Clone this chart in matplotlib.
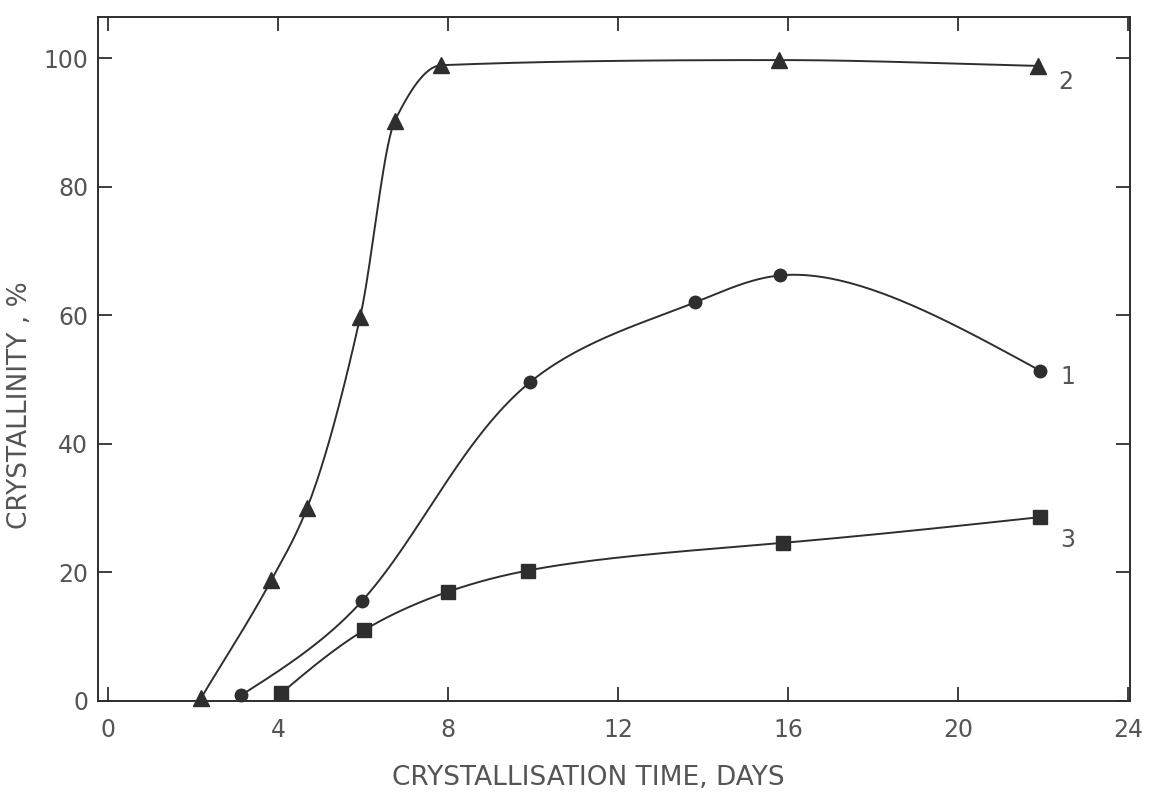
import numpy as np
import matplotlib
matplotlib.use("Agg")
import matplotlib.pyplot as plt

# ---- data ----
days_2 = [2.19, 3.84, 4.68, 5.93, 6.75, 7.84, 15.79, 21.88]
cryst_2 = [0.5, 18.8, 30.0, 59.7, 90.3, 98.9, 99.7, 98.8]

days_1 = [3.13, 5.98, 9.93, 13.81, 15.81, 21.93]
cryst_1 = [0.9, 15.6, 49.6, 62.0, 66.2, 51.4]

days_3 = [4.07, 6.02, 8.00, 9.88, 15.88, 21.93]
cryst_3 = [1.2, 11.0, 17.0, 20.3, 24.6, 28.6]

x_ticks = [0, 4, 8, 12, 16, 20, 24]
y_ticks = [0, 20, 40, 60, 80, 100]
curve_labels = ["2", "1", "3"]

INK = "#2e2e2e"
TXT = "#555555"
FONT = "DejaVu Sans"

# display aspect (px per unit) used only to make the smooth curves isotropic
SX, SY = 42.5, 6.425


def natural_spline(t, v, ts):
    t = np.asarray(t, float)
    v = np.asarray(v, float)
    n = len(t)
    h = np.diff(t)
    d = np.diff(v) / h
    A = np.zeros((n, n))
    b = np.zeros(n)
    A[0, 0] = A[-1, -1] = 1.0
    for i in range(1, n - 1):
        A[i, i - 1] = h[i - 1]
        A[i, i] = 2 * (h[i - 1] + h[i])
        A[i, i + 1] = h[i]
        b[i] = 6 * (d[i] - d[i - 1])
    M = np.linalg.solve(A, b)
    idx = np.clip(np.searchsorted(t, ts) - 1, 0, n - 2)
    hi = h[idx]
    a = (t[idx + 1] - ts) / hi
    c = (ts - t[idx]) / hi
    return (a * v[idx] + c * v[idx + 1]
            + ((a**3 - a) * M[idx] + (c**3 - c) * M[idx + 1]) * hi**2 / 6)


def pchip(x, y, xs):
    x = np.asarray(x, float)
    y = np.asarray(y, float)
    h = np.diff(x)
    d = np.diff(y) / h
    n = len(x)
    m = np.zeros(n)
    for k in range(1, n - 1):
        if d[k - 1] * d[k] > 0:
            w1 = 2 * h[k] + h[k - 1]
            w2 = h[k] + 2 * h[k - 1]
            m[k] = (w1 + w2) / (w1 / d[k - 1] + w2 / d[k])
    m[0] = d[0]
    m[-1] = d[-1]
    idx = np.clip(np.searchsorted(x, xs) - 1, 0, n - 2)
    t = (xs - x[idx]) / h[idx]
    h00 = 2 * t**3 - 3 * t**2 + 1
    h10 = t**3 - 2 * t**2 + t
    h01 = -2 * t**3 + 3 * t**2
    h11 = t**3 - t**2
    return (h00 * y[idx] + h10 * h[idx] * m[idx]
            + h01 * y[idx + 1] + h11 * h[idx] * m[idx + 1])


def smooth_curve(xd, yd, method):
    if method == "pchip":
        xs = np.linspace(xd[0], xd[-1], 800)
        return xs, pchip(xd, yd, xs)
    px = np.asarray(xd, float) * SX
    py = np.asarray(yd, float) * SY
    seg = np.hypot(np.diff(px), np.diff(py)) ** 0.8
    t = np.concatenate([[0], np.cumsum(seg)])
    ts = np.linspace(0, t[-1], 800)
    return natural_spline(t, px, ts) / SX, natural_spline(t, py, ts) / SY


fig = plt.figure(figsize=(11.53, 7.94), dpi=100)
ax = fig.add_axes([98 / 1153, 1 - 701 / 794, (1130 - 98) / 1153, (701 - 17) / 794])
ax.set_xlim(-0.24, 24.05)
ax.set_ylim(0, 106.4)

series = [
    (days_2, cryst_2, "^", 12, (28, -16), "pchip"),
    (days_1, cryst_1, "o", 9, (28, -6), "spline"),
    (days_3, cryst_3, "s", 9.5, (28, -23), "spline"),
]
for (xd, yd, mk, ms, off, meth), lab in zip(series, curve_labels):
    cx, cy = smooth_curve(xd, yd, meth)
    ax.plot(cx, cy, color=INK, lw=1.4, zorder=2)
    ax.plot(xd, yd, linestyle="none", marker=mk, ms=ms, color=INK,
            mec=INK, zorder=3, clip_on=False)
    ax.annotate(lab, xy=(xd[-1], yd[-1]), xytext=off,
                textcoords="offset pixels", fontsize=17, color=TXT,
                family=FONT, ha="center", va="center")

ax.set_xticks(x_ticks)
ax.set_yticks(y_ticks)
ax.set_xticklabels([str(v) for v in x_ticks])
ax.set_yticklabels([str(v) for v in y_ticks])
ax.tick_params(axis="both", direction="in", length=10, width=1.3,
               color=INK, labelcolor=TXT, labelsize=17)
ax.tick_params(axis="x", pad=12, top=True)
ax.tick_params(axis="y", pad=7, right=True)
for lbl in ax.get_xticklabels() + ax.get_yticklabels():
    lbl.set_family(FONT)

for sp in ax.spines.values():
    sp.set_color(INK)
    sp.set_linewidth(1.4)

ax.set_xlabel("CRYSTALLISATION TIME, DAYS", fontsize=19, color=TXT,
              family=FONT)
ax.set_ylabel("CRYSTALLINITY , %", fontsize=19, color=TXT,
              family=FONT)
ax.xaxis.set_label_coords(0.475, -0.094)
ax.yaxis.set_label_coords(-0.063, 0.433)

fig.savefig("out.png", dpi=100)
